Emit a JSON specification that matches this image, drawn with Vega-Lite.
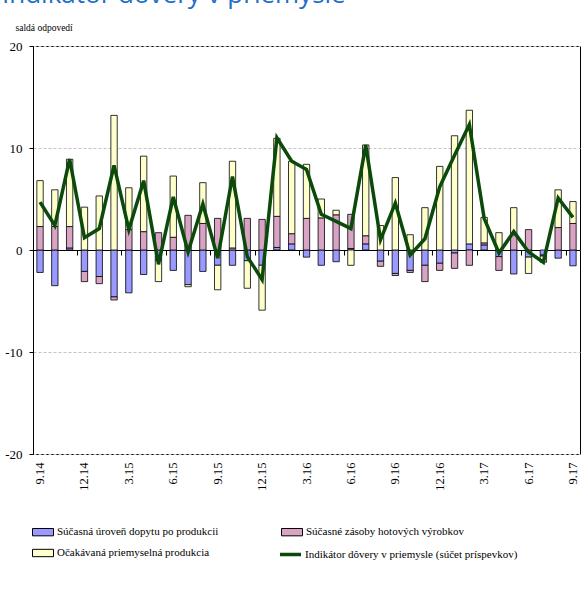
{
  "$schema": "https://vega.github.io/schema/vega-lite/v6.json",
  "width": 547,
  "height": 408,
  "autosize": {"type": "none"},
  "padding": {"left": 33, "top": 46, "right": 6, "bottom": 143},
  "background": "white",
  "title": {
    "text": "Indikátor dôvery v priemysle",
    "anchor": "start",
    "frame": "group",
    "font": "Open Sans",
    "fontSize": 26,
    "fontWeight": "normal",
    "color": "#1f6fc6",
    "baseline": "alphabetic",
    "offset": 0,
    "dx": -31,
    "dy": 7
  },
  "data": {
    "values": [
      {"m": "9.14", "s1_dopyt": -2.2, "s2_zasoby": 2.3, "s3_produkcia": 4.5, "i": 4.7},
      {"m": "10.14", "s1_dopyt": -3.5, "s2_zasoby": 2.3, "s3_produkcia": 3.6, "i": 2.4},
      {"m": "11.14", "s1_dopyt": 0.2, "s2_zasoby": 2.1, "s3_produkcia": 6.6, "i": 8.9},
      {"m": "12.14", "s1_dopyt": -2.1, "s2_zasoby": -1.0, "s3_produkcia": 4.2, "i": 1.2},
      {"m": "1.15", "s1_dopyt": -2.6, "s2_zasoby": -0.7, "s3_produkcia": 5.3, "i": 2.1},
      {"m": "2.15", "s1_dopyt": -4.6, "s2_zasoby": -0.3, "s3_produkcia": 13.2, "i": 8.3},
      {"m": "3.15", "s1_dopyt": -4.2, "s2_zasoby": 2.0, "s3_produkcia": 4.1, "i": 2.0},
      {"m": "4.15", "s1_dopyt": -2.4, "s2_zasoby": 1.8, "s3_produkcia": 7.4, "i": 6.8},
      {"m": "5.15", "s1_dopyt": -1.0, "s2_zasoby": 1.7, "s3_produkcia": -2.1, "i": -1.4},
      {"m": "6.15", "s1_dopyt": -2.0, "s2_zasoby": 1.25, "s3_produkcia": 6.0, "i": 5.2},
      {"m": "7.15", "s1_dopyt": -3.4, "s2_zasoby": 3.4, "s3_produkcia": -0.2, "i": -0.2},
      {"m": "8.15", "s1_dopyt": -2.1, "s2_zasoby": 2.6, "s3_produkcia": 4.0, "i": 4.5},
      {"m": "9.15", "s1_dopyt": -1.5, "s2_zasoby": 3.1, "s3_produkcia": -2.4, "i": -0.8},
      {"m": "10.15", "s1_dopyt": -1.5, "s2_zasoby": 0.2, "s3_produkcia": 8.5, "i": 7.2},
      {"m": "11.15", "s1_dopyt": -1.05, "s2_zasoby": 3.1, "s3_produkcia": -2.7, "i": -0.65},
      {"m": "12.15", "s1_dopyt": -1.5, "s2_zasoby": 3.0, "s3_produkcia": -4.4, "i": -2.9},
      {"m": "1.16", "s1_dopyt": 0.25, "s2_zasoby": 3.05, "s3_produkcia": 7.65, "i": 11.0},
      {"m": "2.16", "s1_dopyt": 0.6, "s2_zasoby": 1.0, "s3_produkcia": 7.1, "i": 8.7},
      {"m": "3.16", "s1_dopyt": -0.7, "s2_zasoby": 3.1, "s3_produkcia": 5.3, "i": 7.9},
      {"m": "4.16", "s1_dopyt": -1.5, "s2_zasoby": 3.15, "s3_produkcia": 1.85, "i": 3.5},
      {"m": "5.16", "s1_dopyt": -1.15, "s2_zasoby": 3.45, "s3_produkcia": 0.45, "i": 2.8},
      {"m": "6.16", "s1_dopyt": 0.15, "s2_zasoby": 3.35, "s3_produkcia": -1.5, "i": 2.1},
      {"m": "7.16", "s1_dopyt": 0.6, "s2_zasoby": 0.8, "s3_produkcia": 8.9, "i": 10.3},
      {"m": "8.16", "s1_dopyt": -1.1, "s2_zasoby": -0.5, "s3_produkcia": 2.4, "i": 1.0},
      {"m": "9.16", "s1_dopyt": -2.3, "s2_zasoby": -0.2, "s3_produkcia": 7.1, "i": 4.6},
      {"m": "10.16", "s1_dopyt": -2.0, "s2_zasoby": -0.2, "s3_produkcia": 1.5, "i": -0.5},
      {"m": "11.16", "s1_dopyt": -1.5, "s2_zasoby": -1.6, "s3_produkcia": 4.15, "i": 1.1},
      {"m": "12.16", "s1_dopyt": -1.3, "s2_zasoby": -0.7, "s3_produkcia": 8.2, "i": 6.2},
      {"m": "1.17", "s1_dopyt": -0.3, "s2_zasoby": -1.5, "s3_produkcia": 11.2, "i": 9.3},
      {"m": "2.17", "s1_dopyt": 0.6, "s2_zasoby": -1.5, "s3_produkcia": 13.1, "i": 12.3},
      {"m": "3.17", "s1_dopyt": 0.5, "s2_zasoby": 0.2, "s3_produkcia": 2.5, "i": 3.1},
      {"m": "4.17", "s1_dopyt": -0.65, "s2_zasoby": -1.35, "s3_produkcia": 1.7, "i": -0.3},
      {"m": "5.17", "s1_dopyt": -2.35, "s2_zasoby": 1.5, "s3_produkcia": 2.65, "i": 1.8},
      {"m": "6.17", "s1_dopyt": -0.7, "s2_zasoby": 2.0, "s3_produkcia": -1.6, "i": -0.2},
      {"m": "7.17", "s1_dopyt": -0.5, "s2_zasoby": -0.1, "s3_produkcia": -0.6, "i": -1.2},
      {"m": "8.17", "s1_dopyt": -0.8, "s2_zasoby": 2.2, "s3_produkcia": 3.7, "i": 5.1},
      {"m": "9.17", "s1_dopyt": -1.55, "s2_zasoby": 2.6, "s3_produkcia": 2.15, "i": 3.2}
    ]
  },
  "layer": [
    {
      "transform": [
        {"fold": ["s1_dopyt", "s2_zasoby", "s3_produkcia"], "as": ["seria", "hodnota"]}
      ],
      "mark": {"type": "bar", "stroke": "black", "strokeWidth": 0.8},
      "encoding": {
        "x": {
          "field": "m",
          "type": "ordinal",
          "sort": null,
          "scale": {"paddingInner": 0.57, "paddingOuter": 0.26},
          "axis": {
            "values": ["9.14", "12.14", "3.15", "6.15", "9.15", "12.15", "3.16", "6.16", "9.16", "12.16", "3.17", "6.17", "9.17"],
            "labelAngle": -90,
            "labelFont": "Liberation Serif, Times New Roman, serif",
            "labelFontSize": 12.5,
            "labelColor": "black",
            "labelPadding": 8,
            "ticks": false,
            "domain": false,
            "grid": false,
            "title": null
          }
        },
        "y": {
          "field": "hodnota",
          "type": "quantitative",
          "stack": "zero",
          "scale": {"domain": [-20, 20]},
          "axis": {
            "values": [-20, -10, 0, 10, 20],
            "labelExpr": "'' + datum.value",
            "labelFont": "Liberation Serif, Times New Roman, serif",
            "labelFontSize": 13,
            "labelColor": "black",
            "labelPadding": 7,
            "tickSize": 4,
            "tickColor": "black",
            "domainColor": "black",
            "gridColor": "#c4c4c4",
            "gridDash": [3, 2],
            "title": "saldá odpovedí",
            "titleAngle": 0,
            "titleAlign": "left",
            "titleBaseline": "middle",
            "titleX": -18,
            "titleY": -19,
            "titleFont": "Liberation Serif, Times New Roman, serif",
            "titleFontSize": 9.5,
            "titleFontWeight": "normal",
            "titleColor": "black"
          }
        },
        "color": {
          "field": "seria",
          "type": "nominal",
          "scale": {
            "domain": ["s1_dopyt", "s3_produkcia", "s2_zasoby"],
            "range": ["#9999ff", "#ffffcc", "#d9a3c4"]
          },
          "legend": {
            "orient": "none",
            "legendX": -1,
            "legendY": 475,
            "columns": 2,
            "columnPadding": 60,
            "rowPadding": 4,
            "title": null,
            "symbolType": "M-1,-0.35H1V0.35H-1Z",
            "symbolSize": 441,
            "symbolStrokeColor": "black",
            "symbolStrokeWidth": 1,
            "symbolOpacity": 1,
            "labelOffset": 3,
            "labelFont": "Liberation Serif, Times New Roman, serif",
            "labelFontSize": 11,
            "labelColor": "black",
            "labelLimit": 300,
            "labelExpr": "datum.label == 's1_dopyt' ? 'Súčasná úroveň dopytu po produkcii' : datum.label == 's2_zasoby' ? 'Súčasné zásoby hotových výrobkov' : 'Očakávaná priemyselná produkcia'"
          }
        },
        "order": {"field": "seria", "sort": "ascending"}
      }
    },
    {
      "mark": {"type": "line", "strokeWidth": 3.5},
      "encoding": {
        "x": {
          "field": "m",
          "type": "ordinal",
          "sort": null,
          "axis": {
            "orient": "bottom",
            "offset": -204,
            "values": ["9.14", "12.14", "3.15", "6.15", "9.15", "12.15", "3.16", "6.16", "9.16", "12.16", "3.17", "6.17", "9.17"],
            "labels": false,
            "tickOffset": -7.4,
            "tickSize": 5,
            "tickColor": "black",
            "domainColor": "black",
            "grid": false,
            "title": null
          }
        },
        "y": {"field": "i", "type": "quantitative"},
        "stroke": {
          "datum": "Indikátor dôvery v priemysle (súčet príspevkov)",
          "scale": {"range": ["#0b4a0b"]},
          "legend": {
            "orient": "none",
            "legendX": 245,
            "legendY": 496,
            "title": null,
            "symbolType": "stroke",
            "symbolSize": 441,
            "symbolStrokeWidth": 3.5,
            "labelOffset": 2,
            "labelFont": "Liberation Serif, Times New Roman, serif",
            "labelFontSize": 11,
            "labelColor": "black",
            "labelLimit": 300
          }
        }
      }
    }
  ],
  "resolve": {"axis": {"x": "independent"}},
  "config": {
    "font": "Liberation Serif, Times New Roman, serif",
    "view": {"stroke": "black", "strokeWidth": 1}
  }
}
